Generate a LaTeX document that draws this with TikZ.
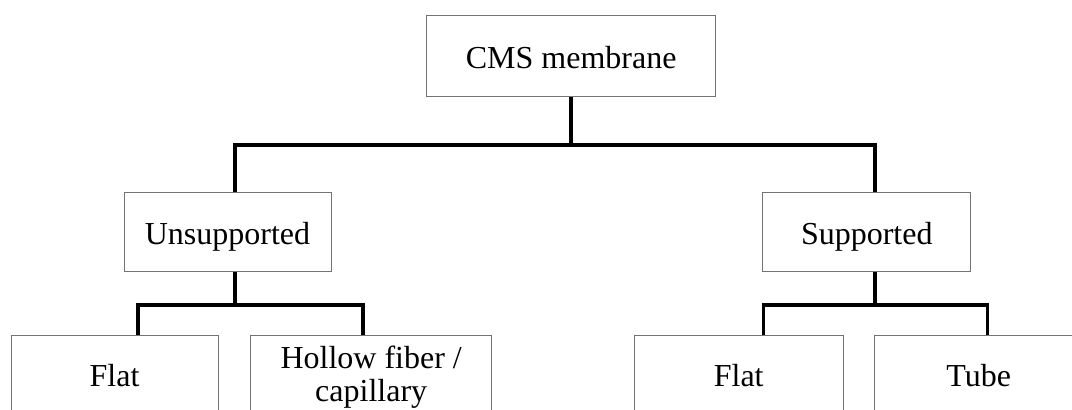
\documentclass[tikz,border=0pt]{standalone}
\usepackage{fontspec}
\setmainfont{Liberation Serif}
\begin{document}
\begin{tikzpicture}[x=1pt,y=-1pt,
  box/.style={draw=black!55,line width=1pt,rectangle,inner sep=0pt,
    font=\fontsize{32}{33.4}\selectfont,text height=24pt,text depth=0pt},
  conn/.style={draw=black,line width=3.6pt,line join=miter}]
\clip (0,0) rectangle (1072,410);
\fill[white] (0,0) rectangle (1072,410);

% boxes
\node[box,minimum width=289pt,minimum height=80.7pt] (root) at (571.2,56.3) {CMS membrane};
\node[box,minimum width=207pt,minimum height=79pt] (unsup) at (227.5,232.2) {Unsupported};
\node[box,minimum width=208.3pt,minimum height=79pt] (sup) at (866.8,232.2) {Supported};
\node[box,minimum width=207pt,minimum height=78pt] (flatL) at (114.5,374.7) {Flat};
\node[box,minimum width=241pt,minimum height=78pt,text height=0pt,text depth=12.8pt] (hollow) at (371.2,374.7)
  {\begin{tabular}[t]{@{}c@{}}Hollow fiber /\\capillary\end{tabular}};
\node[box,minimum width=209.3pt,minimum height=78pt] (flatR) at (738.7,374.7) {Flat};
\node[box,minimum width=208.7pt,minimum height=78pt] (tube) at (978.7,374.7) {Tube};

% junction points of the tree
\coordinate (busL) at (235,145);
\coordinate (busR) at (875,145);
\coordinate (uL) at (138,305);
\coordinate (uR) at (363,305);
\coordinate (sL) at (763.3,305);
\coordinate (sR) at (987.3,305);

% connectors
\draw[conn] (root.south) -- (root.south |- busL);
\draw[conn] (unsup.north -| busL) -- (busL) -- (busR) -- (sup.north -| busR);
\draw[conn] (unsup.south -| busL) -- (busL |- uL);
\draw[conn] (flatL.north -| uL) -- (uL) -- (uR) -- (hollow.north -| uR);
\draw[conn] (sup.south -| busR) -- (busR |- sL);
\draw[conn] (flatR.north -| sL) -- (sL) -- (sR) -- (tube.north -| sR);
\end{tikzpicture}
\end{document}
